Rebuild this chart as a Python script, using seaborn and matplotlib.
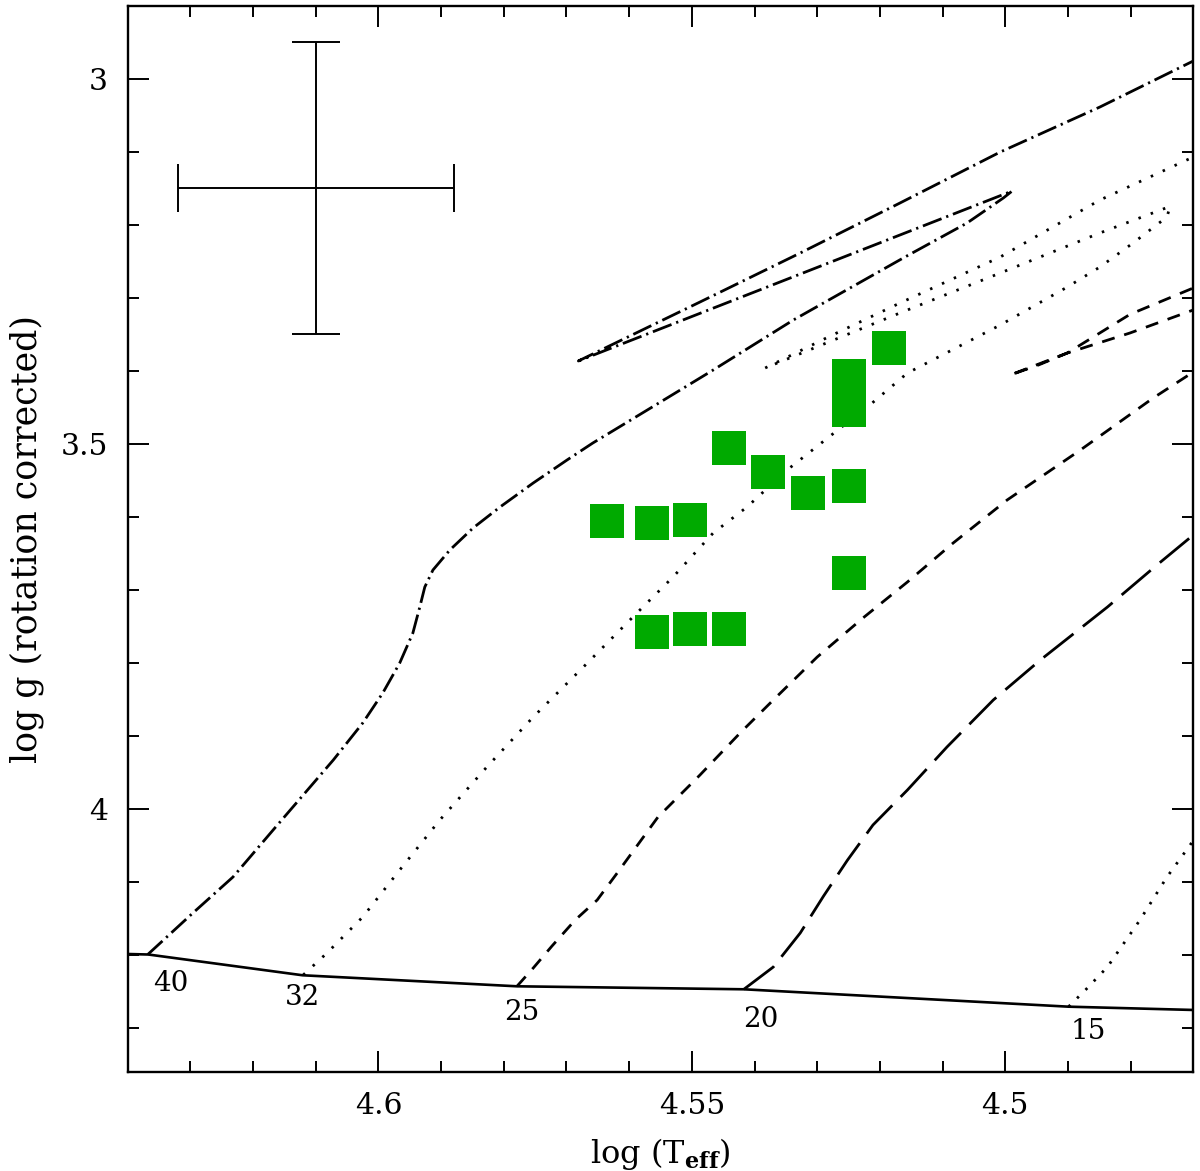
import matplotlib
matplotlib.use("Agg")
import matplotlib.pyplot as plt
from matplotlib.ticker import MultipleLocator, FuncFormatter
import seaborn as sns

# observed stars: log Teff, log g (rotation corrected)
star_teff = [4.5636, 4.5563, 4.5503, 4.5563, 4.5503, 4.5441, 4.5441,
             4.5378, 4.5315, 4.5250, 4.5250, 4.5185, 4.5250, 4.5250]
star_logg = [3.605, 3.608, 3.604, 3.758, 3.753, 3.753, 3.506,
             3.539, 3.567, 3.558, 3.677, 3.368, 3.407, 3.454]

# ZAMS
zams_teff = [4.6400, 4.6367, 4.6121, 4.5779, 4.5417, 4.4899, 4.4700]
zams_logg = [4.1981, 4.1988, 4.2272, 4.2423, 4.2464, 4.2702, 4.2747]

# 40 Msun track
t40_teff = [4.6368, 4.6296, 4.6232, 4.6168, 4.6120, 4.6072, 4.6025, 4.5993,
            4.5966, 4.5945, 4.5934, 4.5926, 4.5913, 4.5886, 4.5849, 4.5806,
            4.5753, 4.5699, 4.5658, 4.5571, 4.5466, 4.5338, 4.5160, 4.5061,
            4.5003, 4.4989, 4.5681, 4.5487, 4.5327, 4.5168, 4.5008, 4.4849,
            4.4700, 4.4609]
t40_logg = [4.1988, 4.1420, 4.0927, 4.0284, 3.9805, 3.9326, 3.8819, 3.8408,
            3.7998, 3.7587, 3.7232, 3.6958, 3.6725, 3.6451, 3.6150, 3.5863,
            3.5534, 3.5219, 3.4987, 3.4535, 3.3988, 3.3303, 3.2441, 3.1976,
            3.1633, 3.1538, 3.3864, 3.3057, 3.2386, 3.1702, 3.1004, 3.0388,
            2.9758, 2.9375]

# 32 Msun track
t32_teff = [4.6120, 4.6082, 4.6025, 4.5966, 4.5902, 4.5827, 4.5753, 4.5673,
            4.5594, 4.5530, 4.5466, 4.5412, 4.5348, 4.5263, 4.5216, 4.5156,
            4.5008, 4.4901, 4.4849, 4.4796, 4.4742, 4.4737, 4.4849, 4.5008,
            4.5168, 4.5383, 4.5279, 4.5168, 4.5008, 4.4849, 4.4700, 4.4609]
t32_logg = [4.2268, 4.1967, 4.1474, 4.0831, 4.0147, 3.9421, 3.8737, 3.8053,
            3.7368, 3.6821, 3.6219, 3.5863, 3.5356, 3.4781, 3.4466, 3.4029,
            3.3372, 3.2852, 3.2578, 3.2249, 3.1893, 3.1748, 3.2112, 3.2660,
            3.3207, 3.3960, 3.3522, 3.3071, 3.2441, 3.1661, 3.1072, 3.0703]

# 25 Msun track
t25_teff = [4.5779, 4.5753, 4.5723, 4.5686, 4.5651, 4.5619, 4.5554, 4.5487,
            4.5423, 4.5370, 4.5300, 4.5227, 4.5156, 4.5083, 4.4997, 4.4880,
            4.4764, 4.4700, 4.4625, 4.4700, 4.4801, 4.4901, 4.4947, 4.4992,
            4.4901, 4.4801, 4.4700, 4.4609]
t25_logg = [4.2423, 4.2173, 4.1871, 4.1515, 4.1242, 4.0872, 4.0106, 3.9531,
            3.8956, 3.8504, 3.7916, 3.7382, 3.6889, 3.6355, 3.5767, 3.5082,
            3.4371, 3.4015, 3.3508, 3.3166, 3.3481, 3.3755, 3.3919, 3.4056,
            3.3755, 3.3226, 3.2865, 3.2482]

# 20 Msun track
t20_teff = [4.5417, 4.5370, 4.5327, 4.5290, 4.5252, 4.5211, 4.5156, 4.5093,
            4.5019, 4.4944, 4.4837, 4.4758, 4.4700, 4.4641]
t20_logg = [4.2464, 4.2159, 4.1693, 4.1190, 4.0700, 4.0215, 3.9736, 3.9148,
            3.8504, 3.7957, 3.7232, 3.6657, 3.6246, 3.5835]

# 15 Msun track
t15_teff = [4.4899, 4.4872, 4.4837, 4.4785, 4.4742, 4.4705, 4.4657]
t15_logg = [4.2702, 4.2473, 4.2159, 4.1515, 4.0927, 4.0489, 3.9865]

mass_labels = ["40", "32", "25", "20", "15"]
label_teff = [4.6331, 4.6121, 4.5771, 4.5390, 4.4867]
label_logg = [4.2389, 4.2572, 4.2788, 4.2884, 4.3045]

# typical error bar
err_teff, err_logg = 4.610, 3.150
err_dteff, err_dlogg = 0.022, 0.20

sns.set_style("ticks")
plt.rcParams["font.family"] = ["DejaVu Serif"]
plt.rcParams["mathtext.fontset"] = "dejavuserif"
for k in ["text.color", "axes.labelcolor", "xtick.color", "ytick.color", "axes.edgecolor"]:
    plt.rcParams[k] = "black"

fig, ax = plt.subplots(figsize=(12, 11.71), dpi=100)
fig.subplots_adjust(left=0.1064, right=0.9944, bottom=0.0843, top=0.9952)

sns.lineplot(x=zams_teff, y=zams_logg, sort=False, estimator=None,
             color="k", lw=1.9, ax=ax)

tracks = [
    (t40_teff, t40_logg, (7.2, 1.8, 0.8, 1.8)),
    (t32_teff, t32_logg, (0.9, 3.8)),
    (t25_teff, t25_logg, (4.7, 3.6)),
    (t20_teff, t20_logg, (13.7, 4.3)),
    (t15_teff, t15_logg, (0.9, 3.4)),
]
for teff, logg, dash in tracks:
    sns.lineplot(x=teff, y=logg, sort=False, estimator=None,
                 color="k", lw=2.0, ax=ax)
    ax.lines[-1].set_dashes(dash)

sns.scatterplot(x=star_teff, y=star_logg, marker="s", s=635,
                color="#00aa00", linewidth=0, zorder=3, ax=ax)

ax.errorbar([err_teff], [err_logg], xerr=err_dteff, yerr=err_dlogg,
            fmt="none", ecolor="k", elinewidth=1.4, capsize=17.6, capthick=1.4)

for lab, tx, ty in zip(mass_labels, label_teff, label_logg):
    ax.text(tx, ty, lab, ha="center", va="center", fontsize=20)

ax.set_xlim(4.64, 4.47)
ax.set_ylim(4.36, 2.9)
ax.xaxis.set_major_locator(MultipleLocator(0.05))
ax.xaxis.set_minor_locator(MultipleLocator(0.01))
ax.yaxis.set_major_locator(MultipleLocator(0.5))
ax.yaxis.set_minor_locator(MultipleLocator(0.1))
fmt = FuncFormatter(lambda v, p: f"{v:g}")
ax.xaxis.set_major_formatter(fmt)
ax.yaxis.set_major_formatter(fmt)

ax.tick_params(which="both", direction="in", top=True, right=True,
               width=1.4, labelsize=21.5, pad=14)
ax.tick_params(which="major", length=15)
ax.tick_params(which="minor", length=7.7)
for sp in ax.spines.values():
    sp.set_linewidth(1.7)

ax.set_xlabel(r"log ($\mathrm{T}_{\mathbf{eff}}$)", fontsize=23, labelpad=12)
ax.set_ylabel("log g (rotation corrected)", fontsize=25, labelpad=12)

fig.savefig("out.png", dpi=100)
